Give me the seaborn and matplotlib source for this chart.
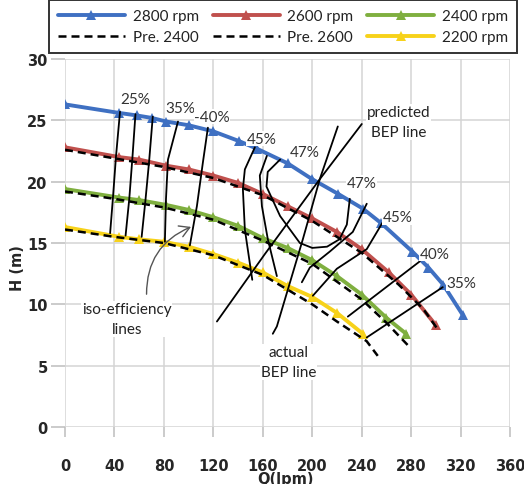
import matplotlib
matplotlib.use("Agg")
import matplotlib.pyplot as plt
import seaborn as sns
import pandas as pd

# ---------------- data ----------------
q_2800 = [0, 44, 58, 70, 82, 100, 120, 141, 155, 180, 200, 221, 241, 256, 281, 294, 306, 322]
h_2800 = [26.3, 25.6, 25.4, 25.2, 24.9, 24.6, 24.1, 23.3, 22.7, 21.5, 20.2, 19.0, 17.8, 16.6, 14.3, 13.0, 11.6, 9.1]

q_2600 = [0, 44, 60, 82, 100, 120, 140, 160, 180, 200, 220, 240, 262, 280, 300]
h_2600 = [22.8, 22.0, 21.8, 21.3, 21.0, 20.5, 19.9, 19.0, 18.0, 17.0, 15.9, 14.5, 12.6, 10.8, 8.3]

q_2400 = [0, 44, 60, 82, 100, 120, 140, 160, 180, 200, 220, 240, 260, 276]
h_2400 = [19.4, 18.7, 18.5, 18.1, 17.7, 17.1, 16.4, 15.4, 14.6, 13.6, 12.3, 10.8, 8.9, 7.6]

q_2200 = [0, 44, 60, 80, 100, 120, 140, 160, 180, 200, 220, 241]
h_2200 = [16.3, 15.5, 15.3, 15.1, 14.7, 14.1, 13.4, 12.6, 11.5, 10.6, 9.3, 7.6]

q_pre2600 = [0, 40, 80, 120, 160, 200, 240, 270, 290, 302]
h_pre2600 = [22.6, 21.9, 21.2, 20.3, 18.9, 16.8, 14.2, 11.6, 9.6, 7.9]

q_pre2400 = [0, 40, 80, 120, 160, 200, 240, 260, 278]
h_pre2400 = [19.2, 18.6, 17.9, 16.9, 15.2, 13.3, 10.4, 8.5, 6.6]

q_pre2200 = [0, 40, 80, 120, 160, 200, 220, 244, 253]
h_pre2200 = [16.1, 15.5, 15.0, 14.0, 12.4, 10.0, 8.6, 7.0, 5.8]

# iso-efficiency lines (Q, H)
iso_lines = {
    "25a": ([44.5, 41.2, 38.8, 36.5], [25.7, 22.0, 18.7, 15.8]),
    "25b": ([57, 54.5, 52, 49], [25.5, 21.9, 18.6, 15.6]),
    "25c": ([71, 68, 65, 62], [25.3, 21.6, 18.4, 15.5]),
    "35": ([91.4, 83.3, 81.7, 80.8], [24.9, 21.8, 18.6, 15.1]),
    "40": ([115.6, 111.6, 106.7, 101.0], [24.4, 21.6, 18.0, 14.8]),
    "45a": ([153.6, 145.5, 143.9, 145.5, 149.6, 151.5], [22.8, 21.0, 19.4, 16.1, 13.3, 12.0]),
    "45b": ([163.3, 157.6, 159.3, 164.1, 171.4], [22.1, 20.5, 18.0, 15.3, 12.3]),
    "47loop": ([174, 164, 163, 174, 190, 200, 212, 222, 228, 230.4],
               [21.8, 20.8, 19.6, 17.2, 15.0, 14.6, 14.7, 15.3, 16.5, 18.6]),
    "47r": ([244.1, 232.8, 214.2, 198.1, 191.6], [18.2, 15.9, 14.3, 13.0, 11.8]),
    "45r": ([257.1, 244.1, 219.9, 200.5], [16.7, 14.5, 12.9, 10.7]),
    "40r": ([287.0, 228.8], [13.5, 9.0]),
    "35r": ([305.6, 244.1], [11.4, 7.3]),
}
bep_pred_q = [240.1, 206.1, 161.7, 122.9]
bep_pred_h = [24.7, 20.2, 14.1, 8.6]
bep_act_q = [220.7, 206.1, 192.4, 171.4, 168.1]
bep_act_h = [24.5, 20.2, 15.3, 8.2, 7.6]

eff_labels = ["25%", "35%", "-40%", "45%", "47%", "47%", "45%", "40%", "35%"]
eff_q = [56.6, 93, 119, 159, 194, 240, 269, 299, 321]
eff_h = [26.7, 26.0, 25.3, 23.5, 22.4, 19.9, 17.1, 14.1, 11.7]

x_ticks = [0, 40, 80, 120, 160, 200, 240, 280, 320, 360]
y_ticks = [0, 5, 10, 15, 20, 25, 30]

# ---------------- styling ----------------
sns.set_theme(style="white")
plt.rcParams["font.family"] = ["Lato", "DejaVu Sans"]

BLUE = "#3F70C2"
RED = "#C0504D"
GREEN = "#7FAF3F"
YELLOW = "#F7D21A"

fig = plt.figure(figsize=(5.24, 4.85), dpi=100)
ax = fig.add_axes([65 / 524, 1 - 428 / 485, (510 - 65) / 524, (428 - 60) / 485])

curve_kw = dict(marker="^", markersize=7, markeredgewidth=0, linewidth=2.8, sort=False, estimator=None)

sns.lineplot(x=q_2800, y=h_2800, color=BLUE, label="2800 rpm", ax=ax, zorder=3, **curve_kw)
sns.lineplot(x=q_2600, y=h_2600, color=RED, label="2600 rpm", ax=ax, zorder=3, **curve_kw)
sns.lineplot(x=q_2400, y=h_2400, color=GREEN, label="2400 rpm", ax=ax, zorder=3, **curve_kw)
sns.lineplot(x=q_2200, y=h_2200, color=YELLOW, label="2200 rpm", ax=ax, zorder=3, **curve_kw)

dash_kw = dict(color="black", linewidth=1.8, sort=False, estimator=None, linestyle="--")
sns.lineplot(x=q_pre2400, y=h_pre2400, label="Pre. 2400", ax=ax, zorder=4, **dash_kw)
sns.lineplot(x=q_pre2600, y=h_pre2600, label="Pre. 2600", ax=ax, zorder=4, **dash_kw)
sns.lineplot(x=q_pre2200, y=h_pre2200, label="_pre2200", ax=ax, zorder=4, **dash_kw)
for ln in ax.lines:
    if ln.get_linestyle() == "--":
        ln.set_dashes((3.2, 2))

for key, (qs, hs) in iso_lines.items():
    sns.lineplot(x=qs, y=hs, color="black", linewidth=1.3, sort=False, estimator=None,
                 ax=ax, zorder=5, legend=False)
sns.lineplot(x=bep_pred_q, y=bep_pred_h, color="black", linewidth=1.3, sort=False,
             estimator=None, ax=ax, zorder=5, legend=False)
sns.lineplot(x=bep_act_q, y=bep_act_h, color="black", linewidth=1.3, sort=False,
             estimator=None, ax=ax, zorder=5, legend=False)

# efficiency labels
for t, xq, yh in zip(eff_labels, eff_q, eff_h):
    ax.text(xq, yh, t, fontsize=11, color="#333333", ha="center", va="center", zorder=6,
            bbox=dict(facecolor="white", edgecolor="none", pad=0.3))

box = dict(facecolor="white", edgecolor="none", pad=0.5)
ax.text(270, 24.85, "predicted\nBEP line", fontsize=11, color="#222222", ha="center",
        va="center", linespacing=1.55, zorder=6, bbox=box)
ax.text(181, 5.3, "actual\nBEP line", fontsize=11, color="#222222", ha="center",
        va="center", linespacing=1.55, zorder=6, bbox=box)
ax.text(50, 8.8, "iso-efficiency\nlines", fontsize=11, color="#222222", ha="center",
        va="center", linespacing=1.55, zorder=6, bbox=box)
ax.annotate("", xy=(104, 16.4), xytext=(66, 10.6),
            arrowprops=dict(arrowstyle="->,head_length=0.6,head_width=0.35", color="#555555",
                            lw=1.0, connectionstyle="arc3,rad=-0.35"), zorder=6)

# axes
ax.set_xlim(0, 360)
ax.set_ylim(0, 30)
ax.set_xticks(x_ticks)
ax.set_yticks(y_ticks)
ax.grid(True, color="#D4D4D4", linewidth=1.1)
ax.set_axisbelow(True)
for s in ax.spines.values():
    s.set_visible(False)
ax.tick_params(axis="x", direction="out", length=7, width=1.1, color="#BDBDBD", pad=15,
               bottom=True)
ax.tick_params(axis="y", direction="out", length=10, width=1.1, color="#BDBDBD", pad=2.5,
               left=True)
for lab in ax.get_xticklabels() + ax.get_yticklabels():
    lab.set_fontfamily("DejaVu Sans")
    lab.set_fontweight("bold")
    lab.set_fontsize(10.5)
ax.set_xlabel("")
ax.set_ylabel("")
fig.text(18 / 524, 1 - 268 / 485, "H (m)", rotation=90, ha="center", va="center",
         fontsize=10.5, fontweight="bold", family="DejaVu Sans")
fig.text(285 / 524, 1 - 480 / 485, "Q(lpm)", ha="center", va="center",
         fontsize=10.5, fontweight="bold", family="DejaVu Sans")

# legend
handles, labels = ax.get_legend_handles_labels()
if ax.get_legend() is not None:
    ax.get_legend().remove()
hmap = dict(zip(labels, handles))
order = ["2800 rpm", "Pre. 2400", "2600 rpm", "Pre. 2600", "2400 rpm", "2200 rpm"]
leg = fig.legend([hmap[k] for k in order], order, ncol=3, loc="upper center",
                 bbox_to_anchor=(283 / 524, 1.014), fontsize=11, handlelength=4.4,
                 handletextpad=0.5, columnspacing=0.9, labelspacing=0.45, borderpad=0.6,
                 frameon=True, fancybox=False, edgecolor="black", numpoints=1)
leg.get_frame().set_linewidth(1.4)
for t in leg.get_texts():
    t.set_color("#222222")

fig.savefig("out.png", dpi=100)
